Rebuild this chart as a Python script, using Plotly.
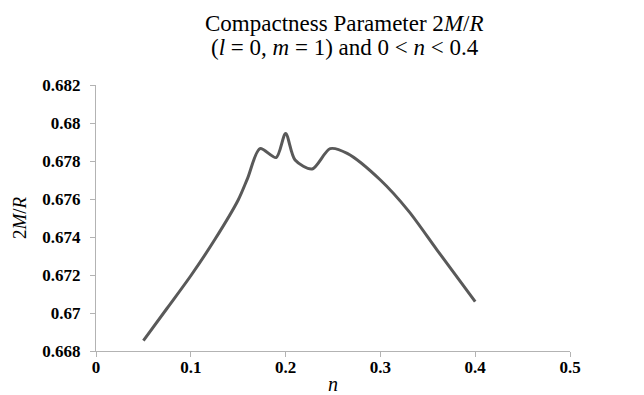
import plotly.graph_objects as go

n_vals = [0.05, 0.075, 0.1, 0.125, 0.15, 0.16, 0.173, 0.19, 0.2, 0.21, 0.228, 0.247, 0.265, 0.3, 0.33, 0.36, 0.4]
m_vals = [0.66855, 0.67025, 0.67196, 0.67384, 0.67595, 0.6771, 0.67865, 0.67818, 0.67945, 0.67805, 0.67758, 0.67865, 0.6784, 0.6770, 0.67535, 0.6733, 0.6706]

x_ticks = [0, 0.1, 0.2, 0.3, 0.4, 0.5]
x_labels = ["0", "0.1", "0.2", "0.3", "0.4", "0.5"]
y_ticks = [0.668, 0.67, 0.672, 0.674, 0.676, 0.678, 0.68, 0.682]
y_labels = ["0.668", "0.67", "0.672", "0.674", "0.676", "0.678", "0.68", "0.682"]

title_lines = ["Compactness Parameter 2<i>M</i>/<i>R</i>",
               "(<i>l</i> = 0, <i>m</i> = 1) and 0 &lt; <i>n</i> &lt; 0.4"]

serif = "Liberation Serif, DejaVu Serif, serif"

fig = go.Figure()
fig.add_trace(go.Scatter(
    x=n_vals, y=m_vals, mode="lines",
    line=dict(color="#595959", width=3, shape="spline", smoothing=0.8),
    showlegend=False, hoverinfo="skip",
))

for i, (txt, yp) in enumerate(zip(title_lines, [1.232, 1.142])):
    fig.add_annotation(
        text=txt, xref="paper", yref="paper", x=0.525, y=yp,
        xanchor="center", yanchor="middle", showarrow=False,
        font=dict(family=serif, size=23, color="#000000"),
    )

fig.update_layout(
    width=644, height=395,
    margin=dict(l=96, r=74, t=85, b=44, autoexpand=False),
    paper_bgcolor="white", plot_bgcolor="white",
    xaxis=dict(
        range=[0, 0.5], tickvals=x_ticks, ticktext=x_labels,
        showgrid=False, zeroline=False, automargin=False,
        showline=True, linecolor="#b3b3b3", linewidth=1,
        ticks="outside", ticklen=5, tickcolor="#b3b3b3",
        ticklabelstandoff=-4,
        tickfont=dict(family=serif, size=17, color="#000000", weight="bold"),
        title=dict(text="<i>n</i>", font=dict(family=serif, size=20, color="#000000"), standoff=2),
    ),
    yaxis=dict(
        range=[0.668, 0.682], tickvals=y_ticks, ticktext=y_labels,
        showgrid=False, zeroline=False, automargin=False,
        showline=True, linecolor="#b3b3b3", linewidth=1,
        ticks="outside", ticklen=5, tickcolor="#b3b3b3",
        ticklabelstandoff=6,
        tickfont=dict(family=serif, size=17, color="#000000", weight="bold"),
        title=dict(text="2<i>M</i>/<i>R</i>", font=dict(family=serif, size=19, color="#000000"), standoff=10),
    ),
)

fig.write_html("out.html")
